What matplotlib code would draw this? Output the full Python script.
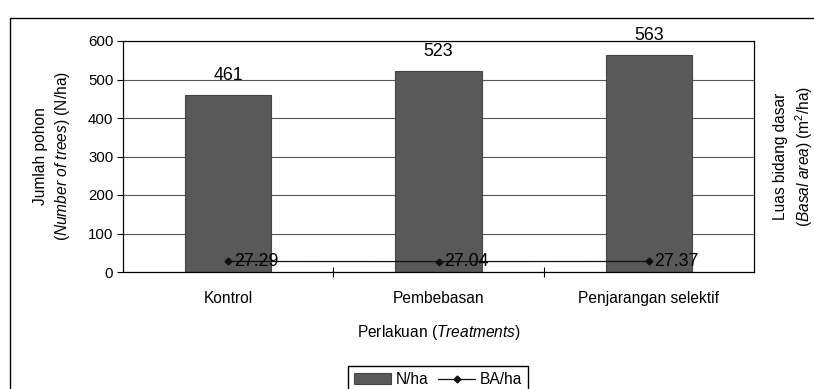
import matplotlib.pyplot as plt
import matplotlib.patches as mpatches
import numpy as np

plt.rcParams['font.family'] = ['Liberation Sans', 'DejaVu Sans']
plt.rcParams['mathtext.fontset'] = 'custom'
plt.rcParams['mathtext.rm'] = 'Liberation Sans'
plt.rcParams['mathtext.it'] = 'Liberation Sans:italic'

categories = ['Kontrol', 'Pembebasan', 'Penjarangan selektif']
n_ha = [461, 523, 563]
ba_ha = [27.29, 27.04, 27.37]

fs = 11.2
fig = plt.figure(figsize=(8.14, 3.89), dpi=100)
ax = fig.add_axes([123 / 814, 1 - 272 / 389, 631 / 814, 231 / 389])

# outer frame
fig.patches.append(mpatches.Rectangle((10 / 814, -0.1), 1.0, 1 - 18 / 389 + 0.1,
                                      transform=fig.transFigure, fill=False,
                                      edgecolor='black', linewidth=1.0))

x = np.arange(len(categories))
bars = ax.bar(x, n_ha, width=0.41, color='#595959', edgecolor='#444444',
              linewidth=0.8, label='N/ha', zorder=2)
for xi, v in zip(x, n_ha):
    ax.annotate(str(v), (xi, v), xytext=(0, 14), textcoords='offset points',
                ha='center', va='center', fontsize=12.8, annotation_clip=False)

ax.set_xlim(-0.5, 2.5)
ax.set_ylim(0, 600)
ax.set_yticks(range(0, 601, 100))
ax.yaxis.grid(True, color='#555555', linewidth=0.8, zorder=0)
ax.set_axisbelow(True)
ax.set_xticks([0.5, 1.5], minor=False)
ax.set_xticklabels([])
ax.set_xticks(x, minor=True)
ax.set_xticklabels(categories, minor=True, fontsize=fs)
ax.tick_params(axis='x', which='minor', length=0, pad=14)
ax.tick_params(axis='x', which='major', length=7, direction='inout', width=0.8)
ax.tick_params(axis='y', length=4, direction='out', labelsize=10.8, width=0.8, pad=3)
for s in ['left', 'bottom', 'right', 'top']:
    ax.spines[s].set_linewidth(0.8)

ax.set_xlabel(r'Perlakuan $\mathit{(Treatments)}$', fontsize=fs, labelpad=12)
ax.set_ylabel('Jumlah pohon\n' + r'$\mathit{(Number\ of\ trees)}$ (N/ha)', fontsize=fs,
              linespacing=1.35)
ax.yaxis.set_label_coords(-0.081, 0.5)

ax2 = ax.twinx()
ax2.set_ylim(0, 600)
ax2.set_yticks([])
line, = ax2.plot(x, ba_ha, color='#111111', linewidth=0.9, marker='D',
                 markersize=3.5, label='BA/ha')
for xi, v in zip(x, ba_ha):
    ax2.annotate(f'{v:.2f}', (xi, v), xytext=(4, 0), textcoords='offset points',
                 ha='left', va='center', fontsize=12.8)
ax2.set_ylabel('Luas bidang dasar\n' + r'$\mathit{(Basal\ area)}$ (m$^2$/ha)', fontsize=fs,
               linespacing=1.35)
ax2.yaxis.set_label_coords(1.030, 0.5)

fig.legend([bars, line], ['N/ha', 'BA/ha'], loc='upper center', ncol=2,
           bbox_to_anchor=(438 / 814, 1 - 358 / 389), fancybox=False,
           edgecolor='black', framealpha=1, fontsize=fs, handlelength=2.4,
           columnspacing=0.6, handletextpad=0.3, borderpad=0.4)

fig.savefig('out.png', dpi=100)
